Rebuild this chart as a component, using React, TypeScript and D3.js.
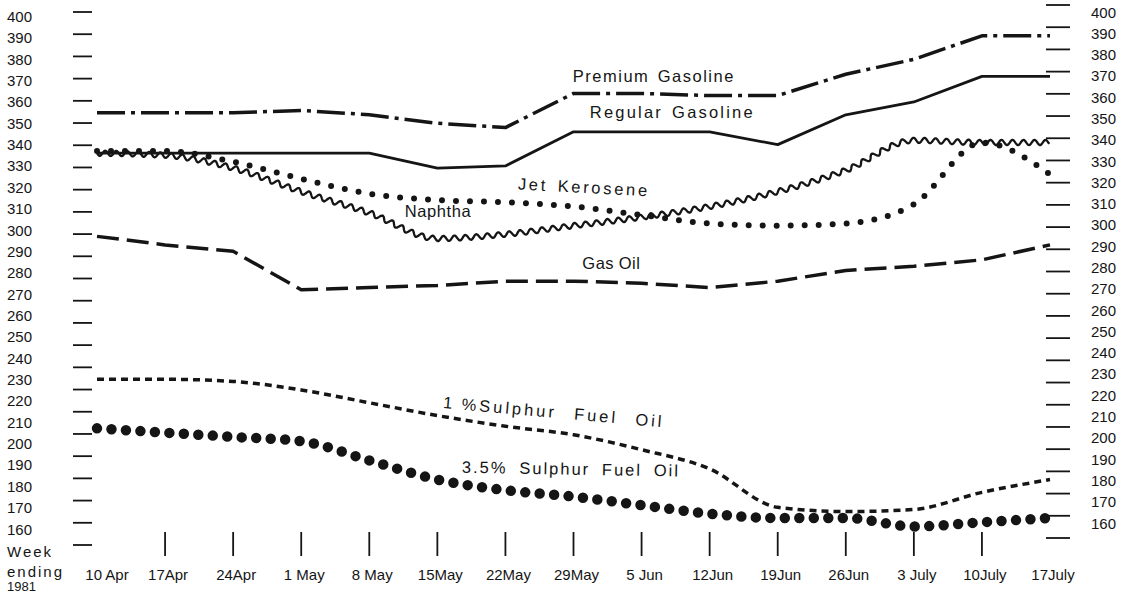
import React, { useEffect, useRef } from 'react';
import * as d3 from 'd3';

// Week ending, 1981
const weekEnding = [
  '1981-04-10', '1981-04-17', '1981-04-24', '1981-05-01', '1981-05-08',
  '1981-05-15', '1981-05-22', '1981-05-29', '1981-06-05', '1981-06-12',
  '1981-06-19', '1981-06-26', '1981-07-03', '1981-07-10', '1981-07-17',
];
const weekLabels = [
  '10 Apr', '17Apr', '24Apr', '1 May', '8 May', '15May', '22May', '29May',
  '5 Jun', '12Jun', '19Jun', '26Jun', '3 July', '10July', '17July',
];
const priceTicks = [
  400, 390, 380, 370, 360, 350, 340, 330, 320, 310, 300, 290, 280,
  270, 260, 250, 240, 230, 220, 210, 200, 190, 180, 170, 160,
];

// prices, one value per week
const premiumGasoline = [354, 354, 354, 355, 353, 349, 347, 363, 363, 362, 362, 372, 379, 390, 390];
const regularGasoline = [335, 335, 335, 335, 335, 328, 329, 345, 345, 345, 339, 353, 359, 371, 371];
const jetKerosene = [336, 336, 331, 323, 316, 313, 312, 310, 306, 302, 301, 302, 311, 340, 325];
const naphtha = [335, 334, 328, 317, 307, 295, 297, 301, 305, 310, 317, 327, 341, 340, 340];
const gasOil = [296, 292, 289, 271, 272, 273, 275, 275, 274, 272, 275, 280, 282, 285, 292];
const fuelOil1 = [229, 229, 228, 224, 218, 212, 207, 203, 196, 187, 169, 167, 168, 176, 182];
const fuelOil35 = [206, 204, 202, 200, 191, 182, 177, 174, 170, 166, 164, 164, 160, 162, 164];

const INK = '#151515';
const FONT = '"Liberation Sans", Arial, Helvetica, sans-serif';

const App: React.FC = () => {
  const ref = useRef<SVGSVGElement>(null);

  useEffect(() => {
    document.body.style.margin = '0';
    if (!ref.current) return;
    const svg = d3.select(ref.current);
    svg.selectAll('*').remove();

    const parse = d3.utcParse('%Y-%m-%d');
    const dates = weekEnding.map((d) => parse(d)!);
    const x = d3.scaleUtc().domain([dates[0], dates[dates.length - 1]]).range([97, 1050]);
    const weekX = (w: number) => x(new Date(dates[0].getTime() + w * 7 * 864e5));

    // the printed scale drifts a little: labels and tick dashes sit on slightly different grids
    const y = d3.scaleLinear().domain([160, 400]).range([526.5, 14.5]);
    const yLabelLeft = d3.scaleLinear().domain([160, 400]).range([529, 16.5]);
    const yLabelRight = d3.scaleLinear().domain([160, 400]).range([523, 12]);
    const yTickLeft = d3.scaleLinear().domain([160, 400]).range([545, 12]);
    const yTickRight = d3.scaleLinear().domain([160, 400]).range([538, 5]);

    svg.append('rect').attr('width', 1132).attr('height', 593).attr('fill', '#fff');

    // left axis
    const left = svg.append('g');
    left.selectAll('line').data(priceTicks).enter().append('line')
      .attr('x1', 73).attr('x2', 92)
      .attr('y1', (d) => yTickLeft(d)).attr('y2', (d) => yTickLeft(d))
      .attr('stroke', INK).attr('stroke-width', 1.8);
    left.selectAll('text').data(priceTicks).enter().append('text')
      .attr('x', 7).attr('y', (d) => yLabelLeft(d) + 5.5)
      .attr('font-family', FONT).attr('font-size', 15).attr('fill', INK)
      .text((d) => d);

    // right axis
    const right = svg.append('g');
    right.selectAll('line').data(priceTicks).enter().append('line')
      .attr('x1', 1046).attr('x2', 1070)
      .attr('y1', (d) => yTickRight(d)).attr('y2', (d) => yTickRight(d))
      .attr('stroke', INK).attr('stroke-width', 1.8);
    right.selectAll('text').data(priceTicks).enter().append('text')
      .attr('x', 1091).attr('y', (d) => yLabelRight(d) + 5.5)
      .attr('font-family', FONT).attr('font-size', 15).attr('fill', INK)
      .text((d) => d);

    // bottom axis: vertical dashes for interior weeks, labels for all
    const bottom = svg.append('g');
    bottom.selectAll('line').data(dates.slice(1, -1)).enter().append('line')
      .attr('x1', (d) => x(d)).attr('x2', (d) => x(d))
      .attr('y1', 532).attr('y2', 556)
      .attr('stroke', INK).attr('stroke-width', 1.8);
    bottom.selectAll('text').data(dates).enter().append('text')
      .attr('x', (d, i) => x(d) + (i === 0 ? 10 : 3)).attr('y', 580)
      .attr('text-anchor', 'middle')
      .attr('font-family', FONT).attr('font-size', 15).attr('fill', INK)
      .text((d, i) => weekLabels[i]);

    const caption = svg.append('g').attr('font-family', FONT).attr('fill', INK);
    caption.append('text').attr('x', 7).attr('y', 557).attr('font-size', 15).attr('letter-spacing', 2).text('Week');
    caption.append('text').attr('x', 7).attr('y', 577).attr('font-size', 15).attr('letter-spacing', 2).text('ending');
    caption.append('text').attr('x', 7).attr('y', 591).attr('font-size', 13).text('1981');

    type Style = { values: number[]; width: number; dash?: string; cap?: string; curve: d3.CurveFactory; wave?: boolean };
    const series: Style[] = [
      { values: fuelOil35, width: 10.5, dash: '0 14.5', cap: 'round', curve: d3.curveMonotoneX },
      { values: fuelOil1, width: 3.5, dash: '7 5', curve: d3.curveMonotoneX },
      { values: gasOil, width: 3.5, dash: '22 8', curve: d3.curveLinear },
      { values: jetKerosene, width: 6, dash: '0 14', cap: 'round', curve: d3.curveMonotoneX },
      { values: naphtha, width: 2.3, curve: d3.curveMonotoneX, wave: true },
      { values: regularGasoline, width: 2.8, curve: d3.curveLinear },
      { values: premiumGasoline, width: 3.5, dash: '28 6 4 6', curve: d3.curveLinear },
    ];

    const plot = svg.append('g');
    series.forEach((s) => {
      const line = d3.line<number>()
        .x((d, i) => x(dates[i]))
        .y((d) => y(d))
        .curve(s.curve);
      const path = plot.append('path')
        .attr('d', line(s.values)!)
        .attr('fill', 'none')
        .attr('stroke', INK)
        .attr('stroke-width', s.width)
        .attr('stroke-linejoin', 'round');
      if (s.dash) path.attr('stroke-dasharray', s.dash);
      if (s.cap) path.attr('stroke-linecap', s.cap);

      if (s.wave) {
        // turn the base path into a wavy line
        const node = path.node() as SVGPathElement;
        const total = node.getTotalLength();
        const wl = 11;
        const amp = 2.6;
        const pts: [number, number][] = [];
        for (let l = 0; l <= total; l += 0.8) {
          const p = node.getPointAtLength(l);
          const q = node.getPointAtLength(Math.min(total, l + 0.8));
          const r = node.getPointAtLength(Math.max(0, l - 0.8));
          const dx = q.x - r.x;
          const dy = q.y - r.y;
          const len = Math.hypot(dx, dy) || 1;
          const off = amp * Math.sin((2 * Math.PI * l) / wl);
          pts.push([p.x - (dy / len) * off, p.y + (dx / len) * off]);
        }
        path.attr('d', d3.line().curve(d3.curveLinear)(pts)!);
      }
    });

    // series names: words spread out so each name spans its printed width
    const notes = [
      { text: 'Premium Gasoline', week: 6.99, value: 368.5, len: 162, ls: 1.5, rot: 0 },
      { text: 'Regular Gasoline', week: 7.24, value: 351.5, len: 165, ls: 2.2, rot: 0 },
      { text: 'Jet Kerosene', week: 6.18, value: 318, len: 132, ls: 2.7, rot: 3 },
      { text: 'Naphtha', week: 4.52, value: 305, len: 65, ls: 0.6, rot: 0 },
      { text: 'Gas Oil', week: 7.13, value: 280.7, len: 58, ls: 0.5, rot: 0 },
      { text: '1\u2009%Sulphur Fuel Oil', week: 5.08, value: 215.5, len: 222, ls: 3, rot: 5 },
      { text: '3.5% Sulphur Fuel Oil', week: 5.36, value: 185.2, len: 218, ls: 2, rot: 1 },
    ];
    const noteLayer = svg.append('g');
    notes.forEach((n) => {
      const t = noteLayer.append('text')
        .attr('transform', `translate(${weekX(n.week)},${y(n.value)}) rotate(${n.rot})`)
        .attr('font-family', FONT).attr('font-size', 16.5).attr('fill', INK)
        .attr('letter-spacing', n.ls);
      const words = n.text.split(' ');
      const spans = words.map((w) => t.append('tspan').text(w));
      const widths = spans.map((sp) => (sp.node() as SVGTSpanElement).getComputedTextLength());
      const sum = d3.sum(widths);
      const gap = words.length > 1 ? Math.max(4, (n.len - sum) / (words.length - 1)) : 0;
      let cx = 0;
      spans.forEach((sp, i) => {
        sp.attr('x', cx).attr('y', 0);
        cx += widths[i] + gap;
      });
    });
  }, []);

  return <svg ref={ref} width={1132} height={593} style={{ display: 'block' }} />;
};

export default App;
